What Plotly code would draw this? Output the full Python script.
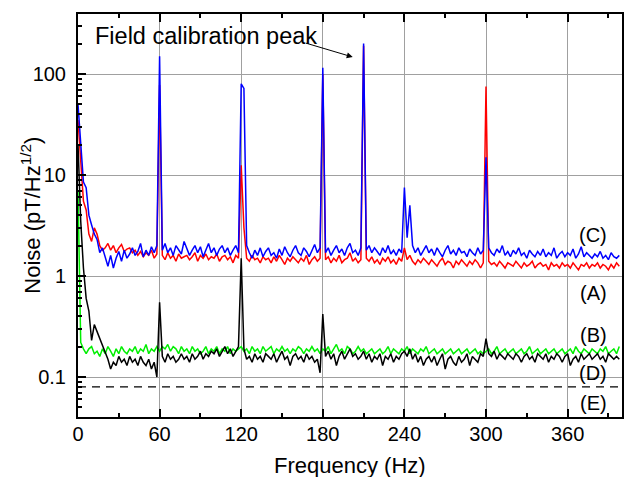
import numpy as np
import plotly.graph_objects as go

freq = list(range(0, 400, 2))

noise_C = [50, 18, 8.5, 7.5, 4.0, 3.2, 2.6, 2.3, 1.7, 1.9,
           1.5, 1.25, 1.6, 1.2, 1.5, 1.75, 1.4, 1.8, 1.5, 1.65,
           1.9, 1.6, 1.75, 2.1, 1.55, 1.8, 1.6, 1.95, 1.7, 2.0,
           150, 1.8, 2.1, 1.7, 1.9, 1.6, 2.0, 1.8, 1.65, 2.2,
           1.9, 1.6, 1.8, 2.0, 1.7, 1.95, 1.55, 1.8, 2.1, 1.7,
           1.9, 1.6, 1.85, 2.0, 1.7, 1.9, 1.6, 1.8, 2.0, 1.7,
           80, 72, 2.0, 1.7, 1.5, 1.8, 1.6, 1.9, 1.55, 1.75,
           1.9, 1.6, 1.7, 1.5, 1.85, 1.6, 1.95, 1.7, 1.55, 1.8,
           2.0, 1.7, 1.6, 1.9, 1.75, 1.55, 1.8, 2.05, 1.7, 1.9,
           115, 1.7, 1.9, 1.6, 1.8, 2.0, 1.7, 1.85, 1.6, 1.9,
           2.1, 1.7, 1.8, 1.6, 1.9, 200, 1.8, 2.0, 1.7, 1.9,
           1.75, 1.6, 1.9, 1.7, 2.0, 1.65, 1.8, 1.6, 1.85, 1.7,
           7.5, 2.4, 5.0, 2.0, 1.7, 1.9, 1.6, 1.8, 2.0, 1.7,
           1.85, 1.6, 1.9, 1.7, 1.55, 1.8, 2.0, 1.65, 1.8, 1.6,
           1.9, 1.7, 1.75, 1.55, 1.85, 1.7, 1.6, 1.9, 1.65, 1.8,
           15, 1.9, 1.7, 1.6, 1.85, 1.7, 2.0, 1.6, 1.75, 1.55,
           1.8, 1.65, 1.9, 1.6, 1.7, 1.5, 1.8, 1.65, 1.55, 1.75,
           1.6, 1.85, 1.55, 1.7, 1.6, 1.9, 1.5, 1.65, 1.75, 1.55,
           1.7, 1.6, 1.85, 1.5, 1.65, 1.95, 1.55, 1.7, 1.6, 1.5,
           1.65, 1.55, 1.75, 1.5, 1.6, 1.45, 1.7, 1.55, 1.5, 1.6]

noise_A = [35, 12, 5.5, 4.5, 2.6, 2.2, 3.0, 2.6, 2.0, 1.8,
           1.9, 2.1, 1.8, 2.0, 1.7, 1.9, 2.05, 1.75, 1.85, 1.9,
           1.7, 1.8, 1.6, 1.75, 1.55, 1.7, 1.6, 1.8, 1.5, 1.65,
           78, 1.6, 1.45, 1.7, 1.5, 1.6, 1.4, 1.65, 1.5, 1.55,
           1.6, 1.45, 1.55, 1.7, 1.4, 1.6, 1.5, 1.65, 1.45, 1.55,
           1.5, 1.65, 1.4, 1.55, 1.6, 1.45, 1.55, 1.35, 1.6, 1.5,
           12.5, 3.0, 1.5, 1.4, 1.6, 1.45, 1.5, 1.35, 1.55, 1.45,
           1.5, 1.35, 1.55, 1.4, 1.6, 1.45, 1.3, 1.5, 1.4, 1.55,
           1.45, 1.35, 1.5, 1.4, 1.6, 1.3, 1.45, 1.55, 1.4, 1.5,
           100, 1.45, 1.55, 1.35, 1.5, 1.4, 1.6, 1.35, 1.45, 1.5,
           1.7, 1.4, 1.5, 1.35, 1.45, 190, 1.5, 1.4, 1.55, 1.35,
           1.45, 1.3, 1.5, 1.4, 1.55, 1.35, 1.45, 1.3, 1.5, 1.4,
           1.9, 1.45, 1.6, 1.4, 1.3, 1.45, 1.35, 1.5, 1.4, 1.3,
           1.45, 1.35, 1.25, 1.4, 1.5, 1.3, 1.4, 1.35, 1.2, 1.4,
           1.3, 1.45, 1.35, 1.25, 1.4, 1.3, 1.45, 1.35, 1.2, 1.35,
           75, 1.4, 1.3, 1.35, 1.25, 1.4, 1.3, 1.2, 1.35, 1.3,
           1.25, 1.4, 1.3, 1.2, 1.35, 1.25, 1.3, 1.4, 1.2, 1.3,
           1.35, 1.25, 1.3, 1.15, 1.35, 1.25, 1.3, 1.2, 1.35, 1.25,
           1.3, 1.2, 1.35, 1.25, 1.15, 1.3, 1.25, 1.35, 1.2, 1.3,
           1.25, 1.35, 1.2, 1.3, 1.25, 1.15, 1.3, 1.2, 1.35, 1.25]

noise_D = [20, 3.5, 1.2, 0.6, 0.45, 0.23, 0.33, 0.28, 0.24, 0.21,
           0.17, 0.15, 0.12, 0.14, 0.13, 0.16, 0.14, 0.15, 0.13, 0.16,
           0.14, 0.15, 0.13, 0.16, 0.14, 0.13, 0.15, 0.12, 0.14, 0.10,
           0.55, 0.16, 0.14, 0.17, 0.15, 0.16, 0.14, 0.15, 0.17, 0.15,
           0.16, 0.14, 0.17, 0.15, 0.16, 0.18, 0.15, 0.17, 0.16, 0.18,
           0.17, 0.19, 0.16, 0.18, 0.2, 0.17, 0.19, 0.16, 0.18, 0.2,
           1.5, 0.19, 0.15, 0.16, 0.14, 0.17, 0.15, 0.16, 0.14, 0.17,
           0.16, 0.15, 0.17, 0.14, 0.16, 0.18, 0.15, 0.16, 0.13, 0.16,
           0.17, 0.15, 0.16, 0.14, 0.17, 0.15, 0.16, 0.14, 0.15, 0.11,
           0.42, 0.16, 0.18, 0.15, 0.17, 0.13, 0.16, 0.18, 0.15, 0.17,
           0.19, 0.16, 0.17, 0.15, 0.16, 0.18, 0.15, 0.17, 0.14, 0.16,
           0.15, 0.17, 0.13, 0.16, 0.15, 0.17, 0.14, 0.16, 0.15, 0.17,
           0.18, 0.16, 0.19, 0.15, 0.17, 0.14, 0.16, 0.13, 0.15, 0.16,
           0.14, 0.16, 0.13, 0.15, 0.17, 0.12, 0.15, 0.16, 0.14, 0.13,
           0.16, 0.14, 0.15, 0.17, 0.13, 0.16, 0.15, 0.14, 0.17, 0.16,
           0.24, 0.17, 0.16, 0.18, 0.15, 0.17, 0.16, 0.15, 0.17, 0.16,
           0.15, 0.17, 0.16, 0.14, 0.16, 0.17, 0.15, 0.16, 0.14, 0.17,
           0.16, 0.15, 0.17, 0.14, 0.16, 0.15, 0.17, 0.16, 0.14, 0.16,
           0.17, 0.13, 0.15, 0.16, 0.14, 0.17, 0.15, 0.16, 0.17, 0.15,
           0.16, 0.17, 0.15, 0.16, 0.14, 0.17, 0.16, 0.15, 0.16, 0.15]

noise_B = [7, 0.22, 0.19, 0.17, 0.19, 0.2, 0.17, 0.18, 0.16, 0.19,
           0.17, 0.2, 0.18, 0.16, 0.19, 0.17, 0.2, 0.18, 0.17, 0.19,
           0.18, 0.2, 0.17, 0.19, 0.18, 0.21, 0.17, 0.19, 0.18, 0.2,
           0.18, 0.2, 0.19, 0.21, 0.18, 0.2, 0.19, 0.17, 0.2, 0.18,
           0.19, 0.17, 0.2, 0.18, 0.19, 0.17, 0.18, 0.2, 0.17, 0.19,
           0.18, 0.2, 0.17, 0.19, 0.18, 0.2, 0.17, 0.19, 0.18, 0.19,
           0.2, 0.18, 0.19, 0.17, 0.2, 0.18, 0.19, 0.17, 0.2, 0.18,
           0.19, 0.2, 0.17, 0.19, 0.18, 0.2, 0.18, 0.19, 0.17, 0.19,
           0.18, 0.2, 0.19, 0.17, 0.19, 0.18, 0.2, 0.18, 0.19, 0.17,
           0.19, 0.18, 0.2, 0.17, 0.19, 0.21, 0.18, 0.19, 0.17, 0.2,
           0.19, 0.17, 0.18, 0.2, 0.18, 0.19, 0.17, 0.18, 0.19, 0.17,
           0.18, 0.19, 0.17, 0.18, 0.2, 0.17, 0.19, 0.18, 0.17, 0.19,
           0.18, 0.2, 0.17, 0.19, 0.18, 0.17, 0.19, 0.18, 0.2, 0.17,
           0.18, 0.19, 0.17, 0.18, 0.19, 0.17, 0.18, 0.19, 0.17, 0.18,
           0.19, 0.17, 0.18, 0.19, 0.17, 0.18, 0.19, 0.17, 0.18, 0.17,
           0.18, 0.19, 0.17, 0.18, 0.2, 0.17, 0.18, 0.19, 0.17, 0.18,
           0.19, 0.17, 0.18, 0.19, 0.17, 0.18, 0.2, 0.17, 0.18, 0.19,
           0.17, 0.18, 0.19, 0.17, 0.18, 0.19, 0.17, 0.18, 0.19, 0.17,
           0.18, 0.19, 0.17, 0.2, 0.18, 0.17, 0.19, 0.18, 0.17, 0.19,
           0.18, 0.17, 0.19, 0.18, 0.2, 0.17, 0.18, 0.19, 0.17, 0.2]

level_E_x = [0, 400]
level_E = [0.08, 0.08]

curve_labels = ["(C)", "(A)", "(B)", "(D)", "(E)"]
label_y = [2.55, 0.68, 0.26, 0.11, 0.055]
label_x = 379

x_ticks = [0, 60, 120, 180, 240, 300, 360]
y_ticks = [0.1, 1, 10, 100]
y_ticktext = ["0.1", "1", "10", "100"]

FONT = "Liberation Sans, Arial, sans-serif"

fig = go.Figure()
lw = 1.5
fig.add_trace(go.Scatter(x=freq, y=noise_A, mode="lines", line=dict(color="#ff0000", width=lw)))
fig.add_trace(go.Scatter(x=freq, y=noise_C, mode="lines", line=dict(color="#0000ff", width=lw)))
fig.add_trace(go.Scatter(x=freq, y=noise_B, mode="lines", line=dict(color="#00ee00", width=lw)))
fig.add_trace(go.Scatter(x=freq, y=noise_D, mode="lines", line=dict(color="#000000", width=lw)))
fig.add_trace(go.Scatter(x=level_E_x, y=level_E, mode="lines",
                         line=dict(color="#000000", width=1.3, dash="8px,6px")))

minor_y = []
for dec in [0.01, 0.1, 1, 10, 100]:
    for m in range(2, 10):
        minor_y.append(round(m * dec, 4))

fig.update_layout(
    width=631, height=477,
    margin=dict(l=78, r=7, t=14, b=60),
    paper_bgcolor="white", plot_bgcolor="white",
    showlegend=False,
    font=dict(family=FONT, size=20, color="black"),
    xaxis=dict(
        range=[0, 400],
        tickmode="array", tickvals=x_ticks,
        ticks="inside", ticklen=8, tickwidth=1.5, tickcolor="black",
        showline=True, linecolor="black", linewidth=2, mirror="ticks",
        showgrid=True, gridcolor="#a0a0a0", gridwidth=1,
        zeroline=False,
        minor=dict(tickmode="array", tickvals=list(range(30, 400, 60)),
                   ticks="inside", ticklen=4, tickwidth=1.5, tickcolor="black", showgrid=False),
        tickfont=dict(size=20),
        ticklabelstandoff=-2,
    ),
    yaxis=dict(
        type="log",
        range=[-1.396, 2.594],
        tickmode="array", tickvals=y_ticks, ticktext=y_ticktext,
        ticks="inside", ticklen=8, tickwidth=1.5, tickcolor="black",
        showline=True, linecolor="black", linewidth=2, mirror=True,
        showgrid=True, gridcolor="#a0a0a0", gridwidth=1,
        zeroline=False,
        minor=dict(tickmode="array", tickvals=minor_y,
                   ticks="inside", ticklen=4, tickwidth=1.5, tickcolor="black", showgrid=False),
        tickfont=dict(size=20),
        ticklabelstandoff=6,
    ),
)

# axis titles
fig.add_annotation(xref="paper", yref="paper", x=(30 - 78) / 546, y=0.5,
                   text="Noise (pT/Hz<sup>1/2</sup>)", textangle=-90, showarrow=False,
                   font=dict(size=22, family=FONT), xanchor="center", yanchor="middle")
fig.add_annotation(xref="paper", yref="paper", x=0.5, y=-(465 - 417) / 403,
                   text="Frequency (Hz)", showarrow=False,
                   font=dict(size=22, family=FONT), xanchor="center", yanchor="middle")

for txt, yv in zip(curve_labels, label_y):
    fig.add_annotation(x=label_x, y=np.log10(yv), text=txt, showarrow=False,
                       font=dict(size=20, family=FONT), xanchor="center", yanchor="middle")

fig.add_annotation(x=94.4, y=2.38, text="Field calibration peak", showarrow=False,
                   font=dict(size=23.5, family=FONT), xanchor="center", yanchor="middle")
fig.add_annotation(x=202, y=2.168, ax=166.5, ay=2.31, axref="x", ayref="y",
                   xref="x", yref="y", text="", showarrow=True,
                   arrowhead=2, arrowsize=1.2, arrowwidth=1, arrowcolor="black")

fig.write_html("out.html")
